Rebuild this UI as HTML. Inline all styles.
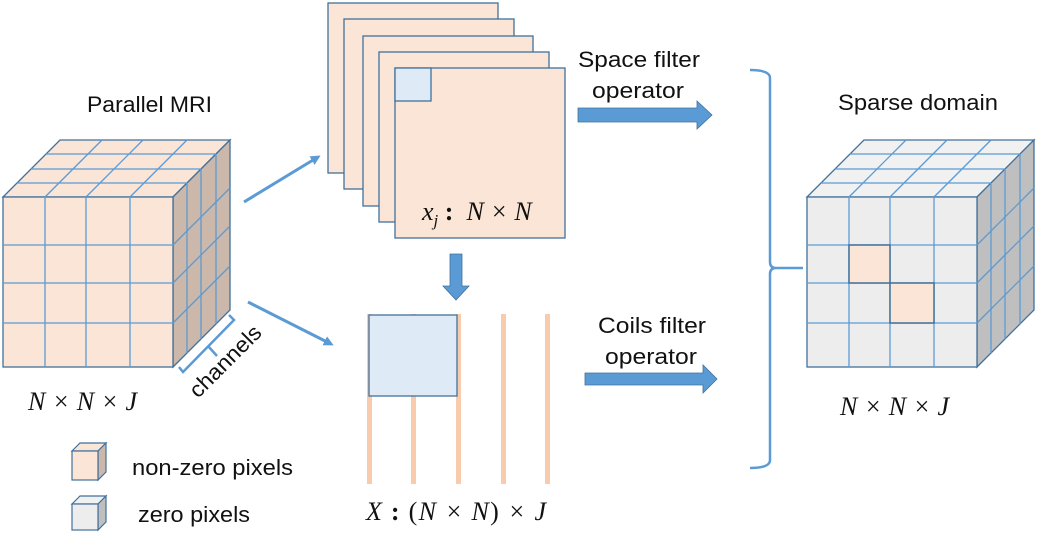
<!DOCTYPE html>
<html><head><meta charset="utf-8"><style>
html,body{margin:0;padding:0;background:#fff;}
svg{display:block;}
.t{font-family:"Liberation Sans",sans-serif;font-size:22px;fill:#111;}
.m{font-family:"Liberation Serif",serif;font-style:italic;font-size:26px;fill:#111;}
.g line{stroke:#5b9bd5;stroke-width:1.3;}
</style></head><body>
<svg width="1039" height="544" viewBox="0 0 1039 544" xmlns="http://www.w3.org/2000/svg">
<defs>
<marker id="ah" markerWidth="10" markerHeight="10" refX="7" refY="5" orient="auto" markerUnits="userSpaceOnUse"><path d="M0,0 L10,5 L0,10 Z" fill="#5b9bd5"/></marker>
</defs>

<!-- Left cube -->
<g>
<polygon points="3,197 173,197 230,140 60,140" fill="#fbe5d6" stroke="#41719c" stroke-width="1.3"/>
<polygon points="173,197 230,140 230,310 173,367" fill="#cbb8ab" stroke="#41719c" stroke-width="1.3"/>
<rect x="3" y="197" width="170" height="170" fill="#fbe5d6" stroke="#41719c" stroke-width="1.3"/>
<g class="g">
<line x1="45" y1="197" x2="102" y2="140"/><line x1="86" y1="197" x2="143" y2="140"/><line x1="130" y1="197" x2="187" y2="140"/>
<line x1="17" y1="183" x2="187" y2="183"/><line x1="31" y1="169" x2="201" y2="169"/><line x1="46" y1="154" x2="216" y2="154"/>
<line x1="187" y1="183" x2="187" y2="353"/><line x1="201" y1="169" x2="201" y2="339"/><line x1="216" y1="154" x2="216" y2="324"/>
<line x1="173" y1="245" x2="230" y2="188"/><line x1="173" y1="283" x2="230" y2="226"/><line x1="173" y1="323" x2="230" y2="266"/>
<line x1="45" y1="197" x2="45" y2="367"/><line x1="86" y1="197" x2="86" y2="367"/><line x1="130" y1="197" x2="130" y2="367"/>
<line x1="3" y1="245" x2="173" y2="245"/><line x1="3" y1="283" x2="173" y2="283"/><line x1="3" y1="323" x2="173" y2="323"/>
</g>
</g>

<!-- Right cube -->
<g transform="translate(804,0)">
<polygon points="3,197 173,197 230,140 60,140" fill="#f1f1f1" stroke="#41719c" stroke-width="1.3"/>
<polygon points="173,197 230,140 230,310 173,367" fill="#bfbfbf" stroke="#41719c" stroke-width="1.3"/>
<rect x="3" y="197" width="170" height="170" fill="#ededed" stroke="#41719c" stroke-width="1.3"/>
<g class="g">
<line x1="45" y1="197" x2="102" y2="140"/><line x1="86" y1="197" x2="143" y2="140"/><line x1="130" y1="197" x2="187" y2="140"/>
<line x1="17" y1="183" x2="187" y2="183"/><line x1="31" y1="169" x2="201" y2="169"/><line x1="46" y1="154" x2="216" y2="154"/>
<line x1="187" y1="183" x2="187" y2="353"/><line x1="201" y1="169" x2="201" y2="339"/><line x1="216" y1="154" x2="216" y2="324"/>
<line x1="173" y1="245" x2="230" y2="188"/><line x1="173" y1="283" x2="230" y2="226"/><line x1="173" y1="323" x2="230" y2="266"/>
<line x1="45" y1="197" x2="45" y2="367"/><line x1="86" y1="197" x2="86" y2="367"/><line x1="130" y1="197" x2="130" y2="367"/>
<line x1="3" y1="245" x2="173" y2="245"/><line x1="3" y1="283" x2="173" y2="283"/><line x1="3" y1="323" x2="173" y2="323"/>
</g>
<rect x="45" y="245" width="41" height="38" fill="#fbe5d6" stroke="#41719c" stroke-width="1.5"/>
<rect x="86" y="283" width="44" height="40" fill="#fbe5d6" stroke="#41719c" stroke-width="1.5"/>
</g>

<!-- stacked pages -->
<g fill="#fbe5d6" stroke="#41719c" stroke-width="1.3">
<rect x="328" y="3" width="170" height="170"/>
<rect x="344" y="19" width="170" height="170"/>
<rect x="363" y="36" width="170" height="170"/>
<rect x="379" y="52" width="170" height="170"/>
<rect x="395" y="68" width="170" height="170"/>
<rect x="395" y="68" width="36" height="33" fill="#deebf7"/>
</g>
<text x="422" y="220" class="m">x<tspan font-size="17" dy="6">j</tspan><tspan dy="-6" font-style="normal" font-weight="bold">&#160;:&#160;&#160;</tspan><tspan>N × N</tspan></text>

<!-- down arrow -->
<polygon points="450,254 462,254 462,286 469,286 456,300 443,286 450,286" fill="#5b9bd5" stroke="#41719c" stroke-width="0.8"/>

<!-- columns -->
<g fill="#f8cbad">
<rect x="367" y="314" width="5" height="170"/>
<rect x="411" y="314" width="5" height="170"/>
<rect x="456" y="314" width="5" height="170"/>
<rect x="501" y="314" width="5" height="170"/>
<rect x="545" y="314" width="5" height="170"/>
</g>
<rect x="369" y="315" width="88" height="81" fill="#deebf7" stroke="#41719c" stroke-width="1.3"/>
<text x="366" y="520" class="m" textLength="180" lengthAdjust="spacing">X<tspan font-style="normal" font-weight="bold"> :  </tspan><tspan font-style="normal">(</tspan>N × N<tspan font-style="normal">)</tspan> × J</text>

<!-- diagonal arrows -->
<line x1="244" y1="202" x2="318" y2="157" stroke="#5b9bd5" stroke-width="3" marker-end="url(#ah)"/>
<line x1="248" y1="302" x2="331" y2="344" stroke="#5b9bd5" stroke-width="3" marker-end="url(#ah)"/>

<!-- channels bracket -->
<g stroke="#5b9bd5" stroke-width="2.5" fill="none">
<path d="M179,367 L183,372 L234,320 L229,315"/>
<path d="M208,346 L217,356"/>
</g>
<text class="t" transform="translate(198,399) rotate(-45)" textLength="92" lengthAdjust="spacingAndGlyphs">channels</text>

<!-- right arrows -->
<polygon points="578,108 697,108 697,101 712,115 697,129 697,122 578,122" fill="#5b9bd5" stroke="#41719c" stroke-width="0.8"/>
<polygon points="585,373 703,373 703,365 717,379 703,393 703,385 585,385" fill="#5b9bd5" stroke="#41719c" stroke-width="0.8"/>

<text x="578" y="67" class="t" textLength="122" lengthAdjust="spacingAndGlyphs">Space filter</text>
<text x="592" y="98" class="t" textLength="92" lengthAdjust="spacingAndGlyphs">operator</text>
<text x="598" y="333" class="t" textLength="108" lengthAdjust="spacingAndGlyphs">Coils filter</text>
<text x="605" y="364" class="t" textLength="92" lengthAdjust="spacingAndGlyphs">operator</text>

<!-- brace -->
<path d="M750,70 Q770,70 770,78 L770,262 Q770,268 776,268 L803,268 M776,268 Q770,268 770,274 L770,460 Q770,468 750,468" fill="none" stroke="#5b9bd5" stroke-width="2.5"/>

<text x="87" y="112" class="t" textLength="125" lengthAdjust="spacingAndGlyphs">Parallel MRI</text>
<text x="838" y="110" class="t" textLength="160" lengthAdjust="spacingAndGlyphs">Sparse domain</text>
<text x="28" y="410" class="m" textLength="109" lengthAdjust="spacing">N × N × J</text>
<text x="840" y="415" class="m" textLength="109" lengthAdjust="spacing">N × N × J</text>

<!-- legend -->
<g stroke="#41719c" stroke-width="1.2">
<polygon points="72,451 80,443 106,443 98,451" fill="#fbe5d6"/>
<polygon points="98,451 106,443 106,472 98,480" fill="#cbb8ab"/>
<rect x="72" y="451" width="26" height="29" fill="#fbe5d6"/>
<polygon points="72,504 80,496 106,496 98,504" fill="#f1f1f1"/>
<polygon points="98,504 106,496 106,522 98,530" fill="#bfbfbf"/>
<rect x="72" y="504" width="26" height="26" fill="#ededed"/>
</g>
<text x="132" y="475" class="t" textLength="161" lengthAdjust="spacingAndGlyphs">non-zero pixels</text>
<text x="138" y="522" class="t" textLength="112" lengthAdjust="spacingAndGlyphs">zero pixels</text>
</svg>
</body></html>
